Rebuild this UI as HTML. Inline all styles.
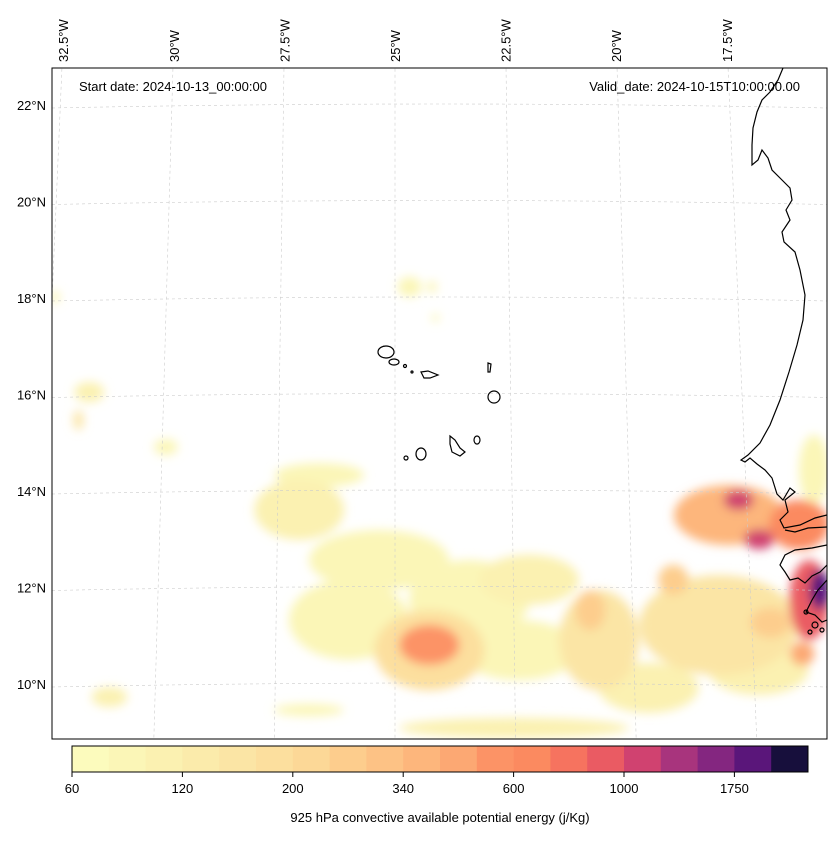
<!DOCTYPE html>
<html><head><meta charset="utf-8"><style>
body{margin:0;background:#fff;font-family:"Liberation Sans","DejaVu Sans",sans-serif;}
svg text{font-family:"Liberation Sans","DejaVu Sans",sans-serif;font-size:13px;fill:#000;}
</style></head><body>
<svg id="c" width="837" height="836" viewBox="0 0 837 836" xmlns="http://www.w3.org/2000/svg">
<defs>
<clipPath id="clip"><rect x="52" y="68" width="775" height="671"/></clipPath>
<filter id="blur" x="-20%" y="-20%" width="140%" height="140%"><feGaussianBlur stdDeviation="5"/></filter>
</defs>
<g id="field" clip-path="url(#clip)" filter="url(#blur)"></g>
<g id="grid" clip-path="url(#clip)"></g>
<g id="coast" clip-path="url(#clip)" fill="none" stroke="#000" stroke-width="1.2">
<path d="M783,68 L778,80 L770,92 L762,100 L757,112 L753,128 L752,145 L752,165 L758,160 L762,150 L768,158 L772,170 L780,178 L790,188 L792,200 L786,210 L790,220 L782,232 L784,242 L795,252 L800,270 L805,295 L803,320 L797,345 L789,372 L780,400 L770,425 L760,443 L748,455 L741,460 L745,462 L750,458 L757,464 L765,470 L772,478 L777,494 L783,500 L790,488 L795,492 L785,500 L788,512 L780,520 L784,528 L800,525 L815,518 L827,515"/>
<path d="M785,530 L795,532 L808,528 L827,527"/>
<path d="M827,545 L812,548 L795,550 L785,555 L780,565 L785,572 L790,580 L798,578 L805,583 L812,576 L820,572 L827,565"/>
<path d="M827,580 L818,590 L812,600 L806,612 L815,615 L822,622 L827,620"/>
<ellipse cx="386" cy="352" rx="8" ry="6"/><ellipse cx="394" cy="362" rx="5" ry="3"/>
<circle cx="405" cy="366" r="1.5"/><circle cx="412" cy="372" r="1"/>
<path d="M421,372 L428,371 L438,375 L430,378 L424,378 Z"/>
<path d="M488,363 L491,364 L490,372 L488,372 Z"/>
<ellipse cx="494" cy="397" rx="6" ry="6"/>
<path d="M450,436 L455,440 L460,448 L465,452 L460,456 L452,452 L450,444 Z"/>
<ellipse cx="477" cy="440" rx="3" ry="4"/>
<ellipse cx="421" cy="454" rx="5" ry="6"/>
<circle cx="406" cy="458" r="2"/>
<circle cx="806" cy="612" r="2"/><circle cx="815" cy="625" r="3"/><circle cx="822" cy="630" r="2"/><circle cx="810" cy="632" r="2"/>
</g>
<rect x="52" y="68" width="775" height="671" fill="none" stroke="#000" stroke-width="1"/>
<text x="79" y="91">Start date: 2024-10-13_00:00:00</text>
<text x="800" y="91" text-anchor="end">Valid_date: 2024-10-15T10:00:00.00</text>
<g id="labels"></g>
<g id="cbar"></g>
<text x="440" y="822" text-anchor="middle">925 hPa convective available potential energy (j/Kg)</text>
</svg>
<script>
const levels=[60,80,100,120,150,170,200,250,300,340,400,500,600,700,850,1000,1250,1500,1750,2000,2500];
const colors=["#fcfbbd","#fbf6b7","#fbf1b1","#fbebab","#fbe5a5","#fcdf9e","#fcd897","#fdcd8d","#fdc285","#fdb67c","#fca873","#fc9366","#fb8a60","#f6735f","#ea5b63","#d04270","#a8347d","#842680","#5a167a","#170f3c"];
const tickLabels=[60,120,200,340,600,1000,1750];
const latTicks=[22,20,18,16,14,12,10];
const lonTicks=[-32.5,-30,-27.5,-25,-22.5,-20,-17.5];
// blobs: lon, lat, rx(px), ry(px), CAPE value
const blobLon=[-24.68,-24.19,-24.12,-32.44,-31.61,-31.82,-29.92,-30.95,-26.79,-26.62,-27.04,-25.34,-25.97,-24.28,-24.28,-23.44,-22.17,-22.40,-20.72,-19.71,-22.53,-19.12,-17.89,-17.67,-17.27,-16.41,-18.19,-16.27,-16.04,-16.03,-17.40,-20.89,-17.11,-16.47];
const blobLat=[18.23,18.23,17.59,18.02,16.05,15.47,14.91,9.73,9.46,14.33,13.61,12.57,11.33,10.70,10.81,11.74,12.16,10.70,10.91,9.92,9.09,12.16,13.50,13.81,13.0,13.30,11.22,11.74,11.95,14.44,10.29,11.53,11.27,10.63];
const blobVal=[80,80,80,80,100,150,80,100,80,80,100,80,80,170,500,80,100,80,150,100,100,250,340,1000,1000,600,150,850,1750,80,100,250,250,400];
const blobRx=[12,5,4,5,15,5,12,18,35,45,45,70,60,55,30,60,50,60,40,50,115,15,55,15,15,30,80,20,10,15,50,15,20,12];
const blobRy=[10,6,4,6,10,10,8,10,6,12,30,30,40,40,20,40,25,30,50,25,10,15,30,10,10,25,50,40,20,35,25,20,15,12];
const NS="http://www.w3.org/2000/svg";
function X(lon,lat){return 395+(lon+25)*(44.4+(22.8-lat)*0.275);}
function Y(lat){return 684-(lat-10)*48.25;}
function colorOf(v){let i=0;while(i<levels.length-2&&v>=levels[i+1])i++;return colors[i];}
const field=document.getElementById('field');
const order=blobVal.map((v,i)=>i).sort((a,b)=>blobVal[a]-blobVal[b]);
order.forEach(i=>{const e=document.createElementNS(NS,'ellipse');
e.setAttribute('cx',X(blobLon[i],blobLat[i]));e.setAttribute('cy',Y(blobLat[i]));
e.setAttribute('rx',blobRx[i]);e.setAttribute('ry',blobRy[i]);e.setAttribute('fill',colorOf(blobVal[i]));


field.appendChild(e);});
const grid=document.getElementById('grid'),lab=document.getElementById('labels');
latTicks.forEach(la=>{const p=document.createElementNS(NS,'path');
const y=Y(la);p.setAttribute('d',`M52,${y+3} Q440,${y-5} 827,${y+3}`);
p.setAttribute('stroke','#ccc');p.setAttribute('stroke-width','0.6');p.setAttribute('stroke-dasharray','3,3');p.setAttribute('fill','none');


grid.appendChild(p);
const t=document.createElementNS(NS,'text');t.setAttribute('x',46);t.setAttribute('y',y+5);t.setAttribute('text-anchor','end');t.textContent=la+'°N';


lab.appendChild(t);});
lonTicks.forEach(lo=>{const p=document.createElementNS(NS,'line');
p.setAttribute('x1',X(lo,23));p.setAttribute('y1',Y(23));p.setAttribute('x2',X(lo,8.5));p.setAttribute('y2',Y(8.5));
p.setAttribute('stroke','#ccc');p.setAttribute('stroke-width','0.6');p.setAttribute('stroke-dasharray','3,3');


grid.appendChild(p);
const x=X(lo,23.4)+5;const t=document.createElementNS(NS,'text');
t.setAttribute('transform',`translate(${x},62) rotate(-90)`);t.textContent=(-lo)+'°W';


lab.appendChild(t);});
const cb=document.getElementById('cbar');const cx0=72,cx1=808,bw=(cx1-cx0)/colors.length;
colors.forEach((c,i)=>{const r=document.createElementNS(NS,'rect');r.setAttribute('x',cx0+i*bw);r.setAttribute('y',746);r.setAttribute('width',bw+0.5);r.setAttribute('height',26);r.setAttribute('fill',c);


cb.appendChild(r);});
const fr=document.createElementNS(NS,'rect');fr.setAttribute('x',cx0);fr.setAttribute('y',746);fr.setAttribute('width',cx1-cx0);fr.setAttribute('height',26);fr.setAttribute('fill','none');fr.setAttribute('stroke','#000');


cb.appendChild(fr);
tickLabels.forEach((v,k)=>{const x=cx0+k*3*bw;
const l=document.createElementNS(NS,'line');l.setAttribute('x1',x);l.setAttribute('x2',x);l.setAttribute('y1',772);l.setAttribute('y2',777);l.setAttribute('stroke','#000');


cb.appendChild(l);
const t=document.createElementNS(NS,'text');t.setAttribute('x',x);t.setAttribute('y',793);t.setAttribute('text-anchor','middle');t.textContent=v;


cb.appendChild(t);});
</script>
</body></html>
